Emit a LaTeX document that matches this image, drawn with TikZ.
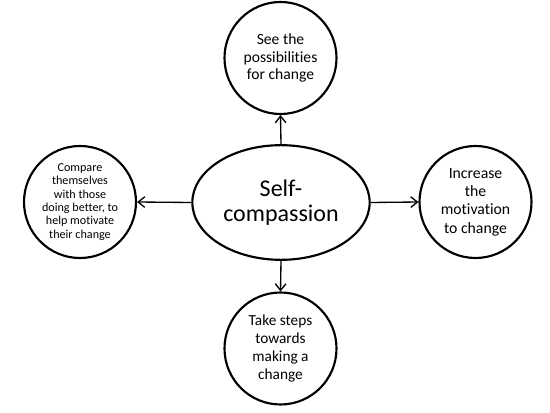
\documentclass[tikz,border=0pt]{standalone}
\usepackage{fontspec}
\setmainfont[Ligatures=CommonOff]{Carlito}
\usetikzlibrary{arrows.meta,shapes.geometric}
\begin{document}
\begin{tikzpicture}[x=0.75pt,y=-0.75pt,
  circ/.style={circle,draw,line width=1.6pt,minimum size=84pt,inner sep=0pt,align=center},
  conn/.style={line width=1pt,-{Straight Barb[length=5pt,width=8pt,line width=1pt]}}]
\useasboundingbox (0,0) rectangle (550,413);
\node[ellipse,draw,line width=1.6pt,minimum width=133pt,minimum height=86pt,inner sep=0pt,align=center,font=\fontsize{18}{19.3}\selectfont] (sc) at (281,202.5) {Self-\\compassion};
\node[circ,font=\fontsize{11.7}{13.1}\selectfont] (top) at (280.5,58) {See the\\possibilities\\for change};
\node[circ,font=\fontsize{11.5}{13.4}\selectfont] (bot) at (280.5,348.5) {Take steps\\towards\\making a\\change};
\node[circ,font=\fontsize{9.1}{10}\selectfont] (left) at (80,202) {Compare\\themselves\\with those\\doing better, to\\help motivate\\their change};
\node[circ,font=\fontsize{11.8}{13.7}\selectfont] (right) at (475.5,202) {Increase\\the\\motivation\\to change};
\draw[conn] (sc.north) -- (top.south);
\draw[conn] (sc.south) -- (bot.north);
\draw[conn] (sc.west) -- (left.east);
\draw[conn] (sc.east) -- (right.west);
\end{tikzpicture}
\end{document}
